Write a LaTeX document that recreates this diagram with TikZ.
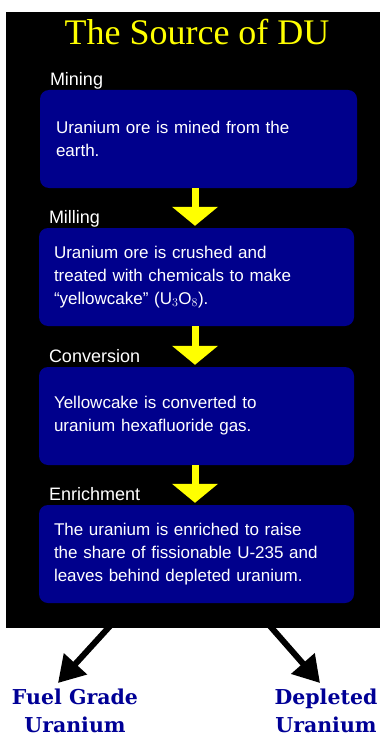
\documentclass[tikz,border=0pt]{standalone}
\usepackage{fontspec}
\setmainfont{Liberation Serif}
\newfontfamily\boxfont{Liberation Sans}
\newfontfamily\slabfont{DejaVu Serif}
\usetikzlibrary{arrows.meta,calc}
\definecolor{navybox}{RGB}{0,0,140}
\definecolor{navytext}{RGB}{0,0,150}
\definecolor{ylw}{RGB}{255,255,0}
\tikzset{
  stepbox/.style={draw=none,fill=navybox,rounded corners=9pt,minimum height=98pt,
    text width=285pt,inner xsep=15pt,inner ysep=0pt,align=left,text=white,
    font=\boxfont\fontsize{17}{23}\selectfont},
  stagelabel/.style={anchor=base west,inner sep=0pt,text=white,font=\boxfont\fontsize{18}{20}\selectfont},
  yarrow/.style={draw=ylw,line width=7pt,-{Triangle[width=45pt,length=19pt]}},
  barrow/.style={draw=black,line width=6pt,-{Triangle[width=30pt,length=26pt]}},
  outlabel/.style={align=center,inner sep=0pt,text=navytext,
    font=\slabfont\bfseries\fontsize{20.5}{28}\selectfont},
}
\begin{document}
\begin{tikzpicture}[x=1pt,y=-1pt]
\useasboundingbox (0,0) rectangle (380,738);
\fill[white] (0,0) rectangle (380,738);
\fill[black] (6,12) rectangle (380,628);
\node[anchor=base,inner sep=0pt,text=ylw,font=\fontsize{36}{40}\selectfont] (title) at (197,45) {The Source of DU};

\node[stepbox,minimum width=317pt] (b1) at (198.5,139) {Uranium ore is mined from the\\earth.};
\node[stepbox,minimum width=313pt] (b2) at (196.5,277) {Uranium ore is crushed and\\treated with chemicals to make\\“yellowcake” (U$_3$O$_8$).};
\node[stepbox,minimum width=313pt] (b3) at (196.5,416) {Yellowcake is converted to\\uranium hexafluoride gas.};
\node[stepbox,minimum width=313pt] (b4) at (196.5,554) {The uranium is enriched to raise\\the share of fissionable U-235 and\\leaves behind depleted uranium.};

\node[stagelabel] (l1) at ($(b1.north west)+(10,-4)$) {Mining};
\node[stagelabel] (l2) at ($(b2.north west)+(10,-4)$) {Milling};
\node[stagelabel] (l3) at ($(b3.north west)+(10,-4)$) {Conversion};
\node[stagelabel] (l4) at ($(b4.north west)+(10,-4)$) {Enrichment};

\draw[yarrow] (b1.south -| 195,0) -- ($(b2.north -| 195,0)+(0,-2)$);
\draw[yarrow] (b2.south -| 195,0) -- ($(b3.north -| 195,0)+(0,-2)$);
\draw[yarrow] (b3.south -| 195,0) -- ($(b4.north -| 195,0)+(0,-2)$);

\coordinate (s1) at (110,626);
\coordinate (s2) at (270,626);
\node[outlabel] (fuel) at (75,711) {Fuel Grade\\Uranium};
\node[outlabel] (dep) at (326,711) {Depleted\\Uranium};
\coordinate (t1) at (58,683);
\coordinate (t2) at (320,683);
\draw[barrow] (s1) -- (t1);
\draw[barrow] (s2) -- (t2);
\end{tikzpicture}
\end{document}
